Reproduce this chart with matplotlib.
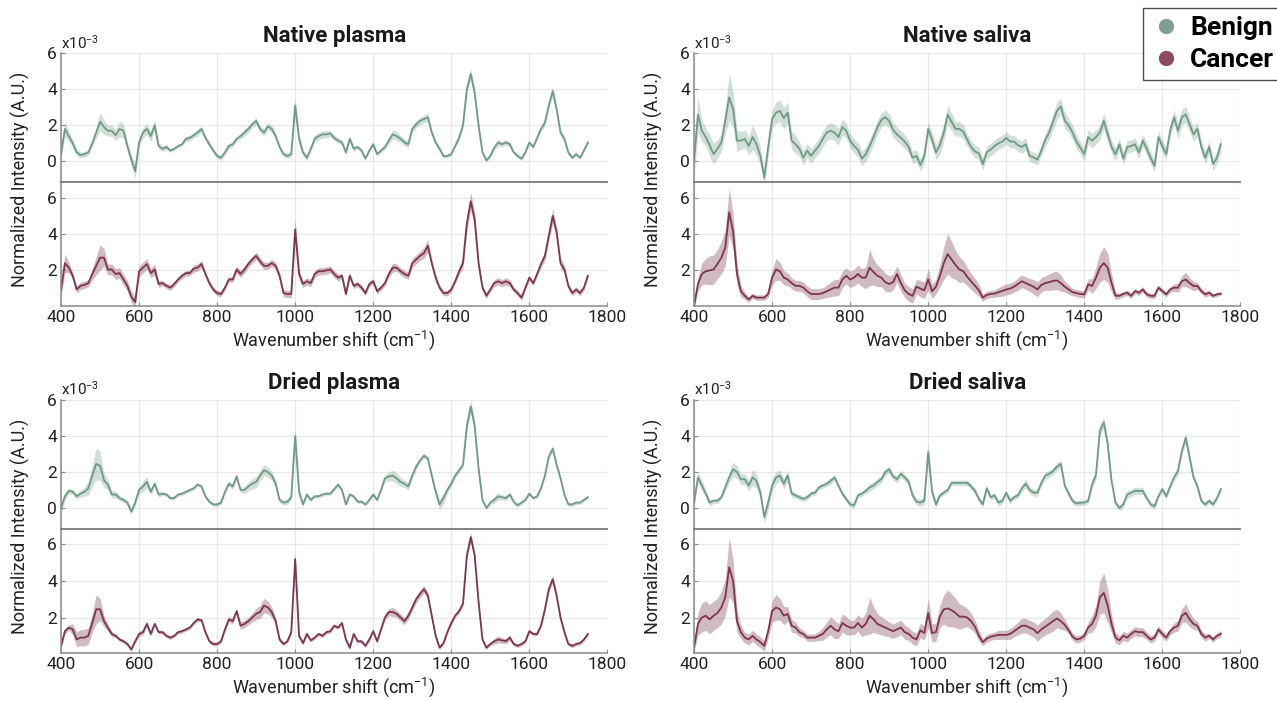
import numpy as np
import matplotlib.pyplot as plt
from matplotlib.lines import Line2D

plt.rcParams['font.family'] = ['Roboto', 'DejaVu Sans']
plt.rcParams['mathtext.fontset'] = 'custom'
plt.rcParams['mathtext.rm'] = 'Roboto'
plt.rcParams['mathtext.it'] = 'Roboto:italic'
plt.rcParams['mathtext.bf'] = 'Roboto:bold'

# wavenumber grid the values were read at, 400-1750 cm-1 every 10
wn = np.arange(400, 1751, 10)

# ---- Native plasma ----
np_benign = [0.4, 1.8, 1.4, 1.0, 0.5, 0.35, 0.4, 0.5, 1.0, 1.6,
             2.2, 1.9, 1.7, 1.7, 1.45, 1.8, 1.7, 0.85, 0.1, -0.55,
             1.05, 1.6, 1.8, 1.4, 2.0, 0.85, 0.7, 0.8, 0.6, 0.7,
             0.85, 0.95, 1.25, 1.3, 1.45, 1.6, 1.8, 1.3, 0.95, 0.6,
             0.3, 0.2, 0.5, 0.85, 0.95, 1.25, 1.4, 1.6, 1.8, 2.05,
             2.25, 1.8, 1.6, 1.95, 1.8, 1.4, 0.8, 0.4, 0.3, 0.4,
             3.1, 1.25, 0.5, 0.2, 0.7, 1.25, 1.4, 1.5, 1.5, 1.55,
             1.3, 1.15, 1.05, 0.5, 1.25, 0.7, 0.8, 0.6, 0.15, 0.6,
             0.95, 0.4, 0.6, 0.8, 1.15, 1.5, 1.4, 1.25, 1.05, 0.95,
             1.8, 2.05, 2.25, 2.35, 2.45, 1.6, 1.05, 0.7, 0.3, 0.3,
             0.4, 0.85, 1.3, 2.0, 4.0, 4.85, 3.8, 2.0, 0.5, 0.05,
             0.3, 0.75, 1.05, 0.95, 1.05, 0.95, 0.5, 0.3, 0.15, 0.5,
             1.05, 0.8, 1.3, 1.8, 2.15, 3.1, 3.9, 2.9, 1.6, 1.25,
             0.5, 0.2, 0.4, 0.2, 0.6, 1.05]
np_benign_sd = [.2, .4, .3, .2, .2, .15, .15, .15, .2, .3,
                .5, .4, .3, .3, .3, .45, .4, .25, .3, .4,
                .25, .3, .3, .3, .3, .2, .15, .15, .1, .1,
                .1, .1, .15, .15, .15, .2, .15, .15, .15, .15,
                .15, .15, .15, .15, .15, .15, .15, .2, .2, .2,
                .2, .2, .2, .2, .2, .2, .15, .15, .15, .15,
                .5, .3, .15, .15, .15, .2, .2, .2, .2, .15,
                .15, .15, .15, .15, .15, .15, .1, .1, .1, .1,
                .1, .1, .1, .15, .2, .25, .25, .2, .2, .2,
                .2, .2, .2, .2, .25, .15, .15, .1, .1, .1,
                .1, .1, .15, .2, .25, .3, .25, .15, .1, .1,
                .1, .15, .2, .15, .15, .15, .1, .1, .1, .1,
                .1, .1, .1, .15, .15, .2, .25, .2, .15, .15,
                .1, .1, .1, .1, .1, .1]
np_cancer = [0.95, 2.4, 2.15, 1.7, 0.95, 1.15, 1.2, 1.3, 1.8, 2.25,
             2.7, 2.7, 2.05, 2.05, 1.8, 1.85, 1.5, 1.15, 0.55, 0.25,
             1.95, 2.15, 2.35, 1.85, 2.05, 1.25, 1.3, 1.15, 1.05, 1.25,
             1.5, 1.7, 1.85, 1.85, 2.1, 2.15, 2.35, 1.8, 1.3, 0.95,
             0.75, 0.7, 1.05, 1.5, 1.5, 2.05, 1.8, 2.05, 2.35, 2.6,
             2.8, 2.5, 2.25, 2.25, 2.4, 2.25, 1.7, 0.75, 0.7, 0.7,
             4.25, 1.8, 1.25, 1.4, 1.3, 1.8, 1.95, 1.95, 2.0, 2.05,
             1.8, 1.6, 1.7, 0.7, 1.7, 1.15, 1.25, 1.05, 0.75, 1.25,
             1.4, 0.85, 1.05, 1.3, 1.8, 2.15, 2.15, 1.95, 1.8, 1.7,
             2.4, 2.6, 2.8, 2.95, 3.35, 2.4, 1.6, 1.05, 0.75, 0.75,
             0.95, 1.4, 1.95, 2.4, 4.6, 5.8, 4.8, 2.4, 1.05, 0.6,
             0.95, 1.3, 1.4, 1.3, 1.4, 1.3, 0.95, 0.75, 0.5, 1.05,
             1.6, 1.3, 1.8, 2.35, 2.8, 3.9, 5.0, 4.1, 2.4, 2.05,
             1.15, 0.75, 0.95, 0.75, 1.05, 1.7]
np_cancer_sd = [.4, .5, .3, .2, .2, .2, .2, .2, .3, .5,
                .7, .5, .3, .3, .3, .3, .3, .3, .3, .3,
                .3, .3, .3, .25, .3, .2, .15, .15, .15, .15,
                .15, .15, .15, .15, .2, .2, .2, .15, .15, .15,
                .15, .15, .15, .15, .15, .2, .2, .2, .2, .2,
                .2, .2, .2, .2, .2, .2, .2, .2, .2, .2,
                .6, .3, .2, .2, .2, .2, .2, .2, .2, .2,
                .2, .2, .15, .15, .15, .15, .15, .15, .15, .15,
                .15, .15, .15, .15, .2, .25, .2, .2, .2, .2,
                .25, .25, .25, .3, .35, .2, .15, .15, .15, .15,
                .15, .15, .2, .3, .4, .5, .4, .2, .15, .15,
                .15, .2, .2, .2, .2, .2, .15, .15, .15, .15,
                .15, .15, .15, .2, .25, .3, .4, .3, .3, .2,
                .15, .15, .15, .15, .15, .15]

# ---- Native saliva ----
ns_benign = [0.05, 2.6, 1.7, 1.35, 0.9, 0.4, 0.7, 1.05, 2.25, 3.55,
             2.9, 1.15, 1.15, 1.25, 0.85, 1.35, 0.95, 0.3, -0.9, 0.8,
             2.35, 2.7, 2.8, 2.4, 2.7, 1.15, 0.95, 0.7, 0.2, 0.6,
             0.3, 0.6, 0.85, 1.25, 1.6, 1.7, 1.6, 1.35, 1.9, 1.7,
             1.15, 0.85, 0.65, 0.15, 0.4, 0.85, 1.35, 1.9, 2.3, 2.45,
             2.25, 1.75, 1.5, 1.3, 1.1, 0.8, 0.2, 0.3, -0.2, 0.3,
             1.8, 1.2, 0.5, 0.9, 1.6, 2.6, 2.2, 1.8, 1.8, 1.65,
             1.2, 0.8, 0.55, 0.45, -0.15, 0.5, 0.65, 0.85, 1.0, 1.1,
             1.3, 1.1, 1.1, 0.9, 0.8, 0.95, 0.3, 0.22, 0.1, 0.6,
             1.2, 1.6, 2.2, 2.8, 3.05, 2.25, 2.0, 1.6, 1.1, 0.75,
             0.4, 1.35, 1.15, 1.35, 1.6, 2.25, 1.5, 0.8, 0.4, 0.95,
             0.15, 0.8, 0.85, 0.95, 0.5, 1.15, 0.7, 0.2, -0.25, 1.35,
             0.85, 0.4, 1.7, 2.45, 1.7, 2.45, 2.6, 2.05, 1.5, 1.8,
             0.8, 0.2, 0.8, -0.15, 0.2, 0.95]
ns_benign_sd = [.9, 1.0, .6, .5, .6, .6, .5, .5, .7, 1.3,
                1.0, .6, .5, .5, .5, .7, .6, .5, .5, .5,
                .5, .6, .6, .6, .6, .5, .5, .4, .4, .4,
                .4, .4, .4, .45, .45, .45, .45, .45, .45, .4,
                .4, .4, .4, .4, .4, .4, .4, .4, .4, .4,
                .4, .4, .4, .4, .4, .35, .35, .35, .35, .35,
                .4, .4, .4, .5, .5, .5, .5, .4, .4, .4,
                .35, .35, .35, .35, .35, .35, .35, .35, .35, .35,
                .35, .35, .35, .35, .35, .35, .3, .3, .3, .3,
                .35, .4, .45, .5, .45, .45, .4, .4, .4, .35,
                .35, .4, .4, .4, .4, .45, .4, .35, .35, .35,
                .35, .35, .35, .35, .35, .35, .35, .35, .35, .35,
                .35, .35, .35, .4, .45, .45, .45, .4, .4, .4,
                .35, .35, .35, .35, .35, .4]
ns_cancer = [0.05, 1.25, 1.8, 1.95, 2.0, 2.05, 2.35, 2.7, 3.25, 5.2,
             4.15, 1.8, 0.85, 0.6, 0.4, 0.6, 0.5, 0.5, 0.5, 0.7,
             1.6, 2.05, 1.95, 1.6, 1.5, 1.3, 1.15, 1.15, 1.05, 0.85,
             0.7, 0.7, 0.7, 0.75, 0.85, 0.95, 1.05, 1.05, 1.5, 1.7,
             1.5, 1.6, 1.8, 1.6, 1.6, 2.15, 1.9, 1.7, 1.6, 1.35,
             1.25, 1.35, 1.8, 1.3, 0.9, 0.7, 0.6, 1.1, 1.0, 0.9,
             1.5, 0.85, 1.1, 1.7, 2.4, 2.9, 2.6, 2.3, 2.05, 1.95,
             1.65, 1.4, 1.15, 0.9, 0.5, 0.65, 0.7, 0.72, 0.8, 0.87,
             0.95, 1.0, 1.1, 1.25, 1.4, 1.3, 1.2, 1.1, 0.95, 1.2,
             1.3, 1.35, 1.42, 1.45, 1.3, 1.1, 0.95, 0.8, 0.75, 0.7,
             0.68, 1.23, 1.14, 1.6, 2.15, 2.4, 2.15, 1.3, 0.6, 0.6,
             0.7, 0.77, 0.6, 0.86, 0.77, 0.95, 0.68, 0.6, 0.6, 1.05,
             0.86, 0.68, 0.95, 1.05, 1.05, 1.4, 1.5, 1.3, 1.14, 1.14,
             0.86, 0.68, 0.77, 0.6, 0.68, 0.72]
ns_cancer_sd = [.1, .4, .6, .7, .8, .8, .8, .9, 1.0, 1.3,
                1.0, .6, .3, .2, .15, .15, .15, .15, .15, .2,
                .4, .6, .5, .4, .35, .3, .3, .3, .3, .3,
                .3, .3, .3, .3, .35, .4, .45, .45, .45, .45,
                .45, .45, .5, .5, .6, 1.0, .7, .6, .5, .5,
                .45, .45, .45, .45, .4, .4, .4, .4, .45, .45,
                .6, .4, .4, .6, .9, 1.1, 1.0, .8, .7, .6,
                .5, .45, .4, .35, .2, .2, .2, .2, .25, .3,
                .3, .3, .3, .35, .35, .35, .35, .4, .4, .4,
                .4, .45, .5, .5, .45, .3, .25, .2, .2, .2,
                .2, .3, .4, .6, .8, .9, .8, .5, .2, .15,
                .15, .15, .15, .15, .15, .15, .15, .15, .15, .15,
                .15, .15, .15, .2, .25, .3, .4, .3, .25, .2,
                .15, .15, .15, .1, .1, .1]

# ---- Dried plasma ----
dp_benign = [0.0, 0.65, 0.95, 0.9, 0.65, 0.8, 0.9, 1.1, 1.8, 2.45,
             2.35, 1.55, 1.3, 0.75, 0.75, 0.55, 0.45, 0.3, -0.2, 0.3,
             1.0, 1.2, 1.45, 0.9, 1.35, 0.75, 0.8, 0.75, 0.55, 0.55,
             0.75, 0.8, 0.9, 1.0, 1.1, 1.3, 1.2, 0.65, 0.35, 0.2,
             0.2, 0.3, 0.9, 1.35, 1.2, 1.75, 1.0, 1.0, 1.2, 1.35,
             1.45, 1.8, 2.1, 2.0, 1.8, 1.35, 0.45, 0.3, 0.35, 0.6,
             4.0, 0.9, 0.2, 0.75, 0.45, 0.65, 0.65, 0.75, 0.8, 0.8,
             1.05, 1.3, 1.0, 0.2, 0.75, 0.65, 0.35, 0.35, 0.2, 0.45,
             0.75, 0.45, 1.0, 1.65, 1.75, 1.8, 1.65, 1.45, 1.35, 1.2,
             1.8, 2.3, 2.65, 2.9, 2.75, 1.8, 0.9, 0.2, 0.55, 1.0,
             1.35, 1.8, 2.1, 2.4, 4.55, 5.65, 4.55, 2.2, 0.45, 0.0,
             0.3, 0.45, 0.65, 0.6, 0.55, 0.75, 0.35, 0.15, 0.3, 0.45,
             0.8, 0.55, 0.65, 1.1, 1.8, 2.85, 3.3, 2.4, 1.65, 0.75,
             0.2, 0.2, 0.3, 0.3, 0.45, 0.6]
dp_benign_sd = [.3, .2, .15, .15, .15, .2, .25, .4, .6, .9,
                .8, .4, .3, .2, .2, .15, .15, .15, .15, .15,
                .2, .3, .3, .15, .15, .15, .1, .1, .1, .1,
                .1, .1, .1, .1, .1, .1, .1, .1, .1, .1,
                .1, .1, .15, .15, .15, .15, .15, .2, .25, .3,
                .3, .3, .3, .3, .25, .2, .15, .15, .15, .15,
                .5, .3, .15, .1, .1, .1, .1, .1, .1, .1,
                .1, .1, .1, .1, .1, .1, .1, .1, .1, .1,
                .1, .1, .1, .2, .25, .3, .3, .25, .2, .2,
                .15, .15, .15, .15, .15, .15, .2, .3, .3, .2,
                .15, .15, .15, .2, .3, .35, .3, .2, .1, .1,
                .1, .2, .2, .15, .15, .1, .1, .1, .1, .1,
                .1, .1, .1, .1, .1, .15, .15, .15, .1, .1,
                .1, .1, .1, .1, .1, .1]
dp_cancer = [0.45, 1.25, 1.45, 1.35, 0.8, 0.9, 0.9, 1.0, 1.7, 2.45,
             2.45, 1.8, 1.45, 1.1, 1.0, 0.8, 0.7, 0.55, 0.25, 0.7,
             1.1, 1.2, 1.65, 1.1, 1.65, 1.2, 1.2, 1.0, 0.9, 1.0,
             1.2, 1.25, 1.35, 1.45, 1.7, 1.9, 1.85, 1.2, 0.7, 0.55,
             0.55, 0.7, 1.35, 1.9, 1.8, 2.35, 1.55, 1.65, 1.8, 2.0,
             2.2, 2.3, 2.65, 2.55, 2.3, 1.8, 0.8, 0.55, 0.7, 1.2,
             5.2, 1.0, 0.6, 1.1, 0.75, 0.9, 1.1, 1.0, 1.2, 1.25,
             1.55, 1.45, 1.7, 0.8, 0.35, 1.1, 0.7, 0.7, 0.45, 0.8,
             1.25, 0.7, 1.35, 2.0, 2.3, 2.3, 2.2, 2.0, 1.8, 2.1,
             2.55, 3.0, 3.3, 3.55, 3.2, 2.1, 1.0, 0.35, 0.6, 1.2,
             1.7, 2.1, 2.35, 2.75, 5.4, 6.4, 5.4, 2.85, 0.8, 0.35,
             0.55, 0.7, 0.8, 0.75, 0.7, 0.9, 0.55, 0.45, 0.55, 0.7,
             1.25, 1.1, 1.1, 1.55, 2.45, 3.55, 4.1, 3.2, 2.0, 1.2,
             0.55, 0.45, 0.55, 0.6, 0.8, 1.1]
dp_cancer_sd = [.2, .15, .15, .3, .4, .45, .45, .45, .5, .8,
                .6, .3, .2, .15, .1, .1, .1, .1, .1, .1,
                .15, .15, .15, .1, .1, .1, .1, .1, .1, .1,
                .1, .1, .1, .1, .1, .1, .1, .1, .1, .1,
                .1, .1, .15, .15, .15, .15, .2, .2, .2, .25,
                .3, .35, .4, .35, .3, .2, .15, .1, .1, .15,
                .3, .15, .1, .1, .1, .1, .1, .1, .1, .1,
                .1, .1, .1, .1, .1, .1, .1, .1, .1, .1,
                .1, .1, .1, .15, .2, .25, .2, .2, .2, .2,
                .2, .2, .2, .2, .2, .15, .1, .1, .1, .1,
                .1, .1, .15, .15, .2, .25, .2, .15, .1, .1,
                .1, .15, .2, .15, .15, .15, .1, .1, .1, .1,
                .1, .1, .1, .1, .15, .15, .2, .15, .1, .1,
                .1, .1, .1, .1, .1, .1]

# ---- Dried saliva ----
ds_benign = [0.3, 1.7, 1.25, 0.8, 0.3, 0.4, 0.4, 0.6, 1.15, 1.7,
             2.15, 2.0, 1.6, 1.6, 1.25, 1.7, 1.5, 0.85, -0.5, 0.3,
             1.25, 1.7, 1.8, 1.35, 1.8, 0.8, 0.7, 0.6, 0.5, 0.6,
             0.8, 0.85, 1.15, 1.25, 1.35, 1.5, 1.7, 1.25, 0.8, 0.5,
             0.2, 0.15, 0.7, 0.8, 0.95, 1.15, 1.25, 1.45, 1.6, 2.0,
             2.15, 1.75, 1.6, 1.9, 1.7, 1.45, 0.7, 0.35, 0.3, 0.4,
             3.1, 0.9, 0.2, 0.7, 0.85, 1.0, 1.4, 1.4, 1.4, 1.4,
             1.4, 1.2, 0.95, 0.5, 0.2, 1.1, 0.6, 0.7, 0.3, 0.4,
             0.85, 0.4, 0.6, 0.7, 1.1, 1.35, 1.0, 0.85, 0.85, 1.4,
             1.8, 1.9, 2.05, 2.3, 2.45, 1.25, 0.8, 0.4, 0.25, 0.3,
             0.3, 0.4, 1.3, 1.85, 4.3, 4.75, 3.55, 1.5, 0.3, 0.0,
             0.2, 0.75, 0.85, 0.95, 0.95, 0.95, 0.55, 0.2, 0.1, 0.65,
             1.05, 0.65, 1.2, 1.7, 2.05, 3.15, 3.9, 2.8, 1.7, 1.2,
             0.4, 0.2, 0.4, 0.2, 0.55, 1.05]
ds_benign_sd = [.2, .3, .3, .2, .2, .15, .15, .15, .2, .3,
                .4, .35, .3, .3, .3, .45, .4, .25, .35, .4,
                .3, .35, .3, .3, .3, .2, .15, .15, .15, .15,
                .15, .15, .15, .15, .15, .2, .15, .15, .15, .15,
                .15, .15, .15, .15, .15, .2, .2, .2, .2, .2,
                .2, .2, .2, .2, .2, .2, .2, .2, .2, .2,
                .5, .3, .2, .15, .15, .15, .15, .15, .15, .15,
                .15, .15, .15, .15, .15, .15, .15, .15, .2, .15,
                .15, .15, .15, .15, .2, .25, .2, .2, .2, .2,
                .2, .2, .2, .2, .2, .15, .15, .15, .15, .15,
                .15, .15, .2, .25, .3, .3, .3, .2, .15, .15,
                .15, .2, .2, .2, .2, .2, .15, .15, .15, .15,
                .15, .15, .15, .2, .2, .25, .3, .25, .2, .2,
                .15, .15, .15, .15, .15, .15]
ds_cancer = [0.35, 1.65, 2.0, 2.1, 1.9, 2.1, 2.25, 2.55, 3.1, 4.75,
             4.0, 1.8, 1.2, 0.9, 0.8, 1.0, 0.8, 0.65, 0.45, 1.25,
             2.35, 2.55, 2.45, 2.1, 2.2, 1.55, 1.45, 1.2, 1.1, 0.9,
             0.9, 0.9, 1.0, 1.1, 1.35, 1.55, 1.35, 1.25, 1.7, 1.55,
             1.45, 1.45, 1.7, 1.45, 1.65, 2.1, 1.9, 1.65, 1.55, 1.45,
             1.35, 1.25, 1.35, 1.45, 1.2, 1.1, 0.9, 0.8, 1.3, 1.15,
             2.25, 1.15, 1.2, 2.05, 2.45, 2.5, 2.4, 2.25, 2.05, 2.05,
             2.0, 1.8, 1.5, 1.0, 0.65, 0.85, 0.95, 1.0, 1.05, 1.05,
             1.05, 1.1, 1.25, 1.4, 1.55, 1.55, 1.45, 1.35, 1.15, 1.35,
             1.5, 1.65, 1.8, 1.95, 1.8, 1.6, 1.3, 0.95, 0.8, 0.85,
             1.0, 1.45, 1.65, 2.1, 3.1, 3.35, 2.65, 1.65, 0.9, 0.75,
             1.0, 0.9, 1.1, 1.25, 1.2, 1.2, 1.0, 0.8, 0.9, 1.35,
             1.1, 0.9, 1.25, 1.45, 1.55, 2.1, 2.25, 1.9, 1.65, 1.55,
             1.1, 0.9, 1.0, 0.8, 1.0, 1.1]
ds_cancer_sd = [.2, .6, .8, .8, .8, .8, .8, .9, 1.0, 1.6,
                1.2, .6, .35, .3, .3, .3, .3, .3, .3, .4,
                .6, .7, .6, .5, .4, .35, .3, .25, .2, .2,
                .2, .2, .25, .35, .4, .5, .5, .4, .5, .5,
                .4, .4, .45, .5, .6, 1.0, .7, .55, .5, .45,
                .4, .4, .4, .4, .4, .35, .35, .35, .4, .4,
                .8, .5, .5, .6, .8, 1.0, .9, .8, .7, .6,
                .5, .45, .35, .3, .2, .2, .2, .2, .25, .25,
                .25, .3, .3, .35, .4, .4, .4, .4, .45, .45,
                .45, .5, .55, .5, .45, .3, .2, .2, .2, .2,
                .2, .3, .45, .6, .9, 1.1, .9, .5, .3, .25,
                .25, .25, .25, .25, .25, .25, .2, .2, .2, .2,
                .2, .2, .2, .25, .3, .4, .5, .4, .3, .25,
                .2, .2, .15, .15, .15, .2]

titles = ['Native plasma', 'Native saliva', 'Dried plasma', 'Dried saliva']

benign_line = '#6f9a84'
benign_fill = '#8fb09f'
cancer_line = '#7e3453'
cancer_fill = '#8e5569'
spine_col = '#8a8a8a'
grid_col = '#e8e8e8'

fig = plt.figure(figsize=(12.77, 7.01), dpi=100)

col_x = [0.0478, 0.5435]
col_w = 0.4278
rows = [(0.924, 0.740, 0.5635), (0.4294, 0.2455, 0.068)]


def style_axes(ax, top):
    ax.set_xlim(400, 1800)
    ax.set_xticks(np.arange(400, 1801, 200))
    ax.grid(True, color=grid_col, lw=0.9)
    ax.set_axisbelow(True)
    for s in ['top', 'right']:
        ax.spines[s].set_visible(False)
    for s in ['left', 'bottom']:
        ax.spines[s].set_color(spine_col)
        ax.spines[s].set_linewidth(1.1)
    ax.tick_params(direction='in', length=3, color=spine_col,
                   labelsize=12.5, labelcolor='#222222', pad=3)
    if top:
        ax.tick_params(axis='x', length=0, labelbottom=False)


panels = [
    (np_benign, np_benign_sd, np_cancer, np_cancer_sd),
    (ns_benign, ns_benign_sd, ns_cancer, ns_cancer_sd),
    (dp_benign, dp_benign_sd, dp_cancer, dp_cancer_sd),
    (ds_benign, ds_benign_sd, ds_cancer, ds_cancer_sd),
]

for i, (b, bsd, c, csd) in enumerate(panels):
    r, cidx = divmod(i, 2)
    y_top, y_mid, y_bot = rows[r]
    x0 = col_x[cidx]
    b = np.array(b); bsd = np.array(bsd)
    c = np.array(c); csd = np.array(csd)

    # bottom (cancer) axes first so the divider line of the top axes stays visible
    ax2 = fig.add_axes([x0, y_bot, col_w, y_mid - y_bot])
    ax2.fill_between(wn, c - csd, c + csd, color=cancer_fill, alpha=0.4, lw=0)
    ax2.plot(wn, c, color=cancer_line, lw=1.3)
    ax2.set_ylim(0.04, 6.85)
    ax2.set_yticks([2, 4, 6])
    style_axes(ax2, False)
    ax2.set_xlabel('Wavenumber shift (cm$^{-1}$)', fontsize=13,
                   color='#222222', labelpad=2)

    ax1 = fig.add_axes([x0, y_mid, col_w, y_top - y_mid])
    ax1.patch.set_visible(False)
    ax1.fill_between(wn, b - bsd, b + bsd, color=benign_fill, alpha=0.4, lw=0)
    ax1.plot(wn, b, color=benign_line, lw=1.3)
    ax1.set_ylim(-1.16, 6)
    ax1.set_yticks([0, 2, 4, 6])
    style_axes(ax1, True)
    ax1.spines['bottom'].set_color('#7a7a7a')
    ax1.spines['bottom'].set_linewidth(1.3)
    ax1.text(0.0, 1.015, r'x10$^{-3}$', transform=ax1.transAxes,
             fontsize=11, color='#222222', ha='left', va='bottom')
    ax1.set_title(titles[i], fontsize=16, fontweight='bold', pad=8,
                  color='#1a1a1a')

    fig.text(x0 - 0.032, (y_top + y_bot) / 2, 'Normalized Intensity (A.U.)',
             rotation=90, ha='center', va='center', fontsize=13,
             color='#222222')

handles = [Line2D([], [], ls='none', marker='o', ms=10, color='#7fa090'),
           Line2D([], [], ls='none', marker='o', ms=10, color='#8e4a62')]
leg = fig.legend(handles, ['Benign', 'Cancer'], loc='upper right',
                 bbox_to_anchor=(1.004, 0.988), fancybox=False,
                 edgecolor='#222222', handletextpad=0.3, borderpad=0.3,
                 labelspacing=0.3, handlelength=1.2, borderaxespad=0,
                 prop={'size': 19, 'weight': 'bold'})
leg.get_frame().set_linewidth(1.0)

fig.savefig('out.png', dpi=100)
